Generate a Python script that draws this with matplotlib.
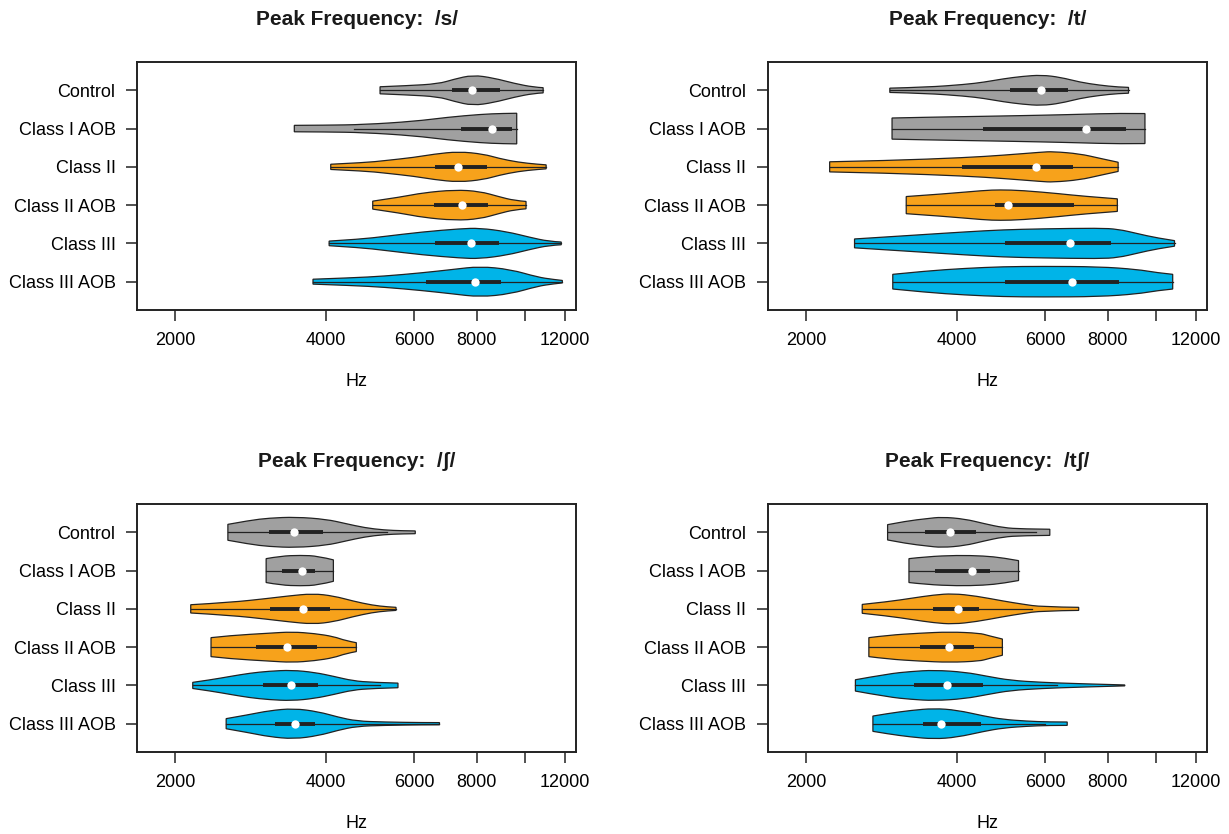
import matplotlib
matplotlib.use("Agg")
import matplotlib.pyplot as plt
from matplotlib.path import Path
from matplotlib.patches import PathPatch

plt.rcParams['font.family'] = ['Liberation Sans', 'DejaVu Sans']

groups = ['Control', 'Class I AOB', 'Class II', 'Class II AOB', 'Class III', 'Class III AOB']
fills = ['#a0a0a0', '#a0a0a0', '#f7a21b', '#f7a21b', '#00b4e8', '#00b4e8']

# /s/  -- whisker ends, quartiles, medians, and violin outline (Hz, relative half width)
s_wlo = [5130, 4560, 4090, 4960, 4060, 3770]
s_whi = [10850, 9610, 11000, 10030, 11790, 11850]
s_q1 = [7150, 7450, 6600, 6570, 6600, 6340]
s_med = [7830, 8560, 7350, 7490, 7790, 7940]
s_q3 = [8900, 9400, 8380, 8430, 8860, 8940]
s_shape = [
    [(5130, .23), (5800, .30), (6700, .42), (7200, .72), (7850, 1.0), (8650, .80), (9500, .45), (10400, .20), (10850, .17)],
    [(3460, .21), (4000, .22), (4760, .26), (6000, .47), (7000, .74), (8150, .93), (9000, .99), (9610, 1.0)],
    [(4090, .17), (4800, .28), (5220, .40), (6010, .62), (6570, .83), (7360, 1.0), (8260, .83), (8860, .55), (9680, .30), (10570, .17), (11000, .13)],
    [(4960, .26), (5700, .55), (6230, .80), (7230, 1.0), (8110, .90), (8860, .55), (9510, .30), (10030, .24)],
    [(4060, .15), (4700, .28), (5220, .45), (6230, .75), (7430, .96), (8110, 1.0), (9180, .77), (10200, .40), (11140, .13), (11790, .09)],
    [(3770, .16), (4500, .25), (5220, .36), (6230, .58), (7170, .80), (8110, 1.0), (9340, .80), (10570, .30), (11340, .15), (11850, .08)],
]

# /t/
t_wlo = [2940, 2970, 2230, 3170, 2500, 2980]
t_whi = [8800, 9490, 8390, 8360, 10870, 10780]
t_q1 = [5110, 4510, 4100, 4760, 4990, 4990]
t_med = [5900, 7230, 5750, 5050, 6730, 6790]
t_q3 = [6670, 8690, 6830, 6850, 8130, 8440]
t_shape = [
    [(2940, .14), (3480, .20), (4150, .38), (4530, .53), (4950, .75), (5400, .91), (5900, 1.0), (6440, .85), (7040, .53), (7680, .34), (8390, .21), (8800, .19)],
    [(2970, .69), (3480, .74), (4530, .80), (5900, .87), (7040, .93), (8390, 1.0), (9490, .98)],
    [(2230, .33), (2920, .41), (4150, .60), (4950, .76), (5900, .96), (6220, 1.0), (7040, .85), (7680, .57), (8390, .30)],
    [(3170, .56), (3800, .74), (4530, .96), (4870, 1.0), (5400, .96), (6440, .74), (7040, .60), (8360, .41)],
    [(2500, .29), (2920, .43), (3480, .59), (4150, .75), (4950, .89), (5900, .95), (7680, 1.0), (8390, .93), (9170, .64), (10010, .36), (10870, .18)],
    [(2980, .48), (3480, .70), (4150, .87), (4950, .98), (5900, 1.0), (7680, .98), (9170, .80), (10010, .59), (10780, .48)],
]

# /ʃ/
sh_wlo = [2550, 3040, 2150, 2360, 2170, 2530]
sh_whi = [5300, 4140, 5520, 4600, 5130, 6740]
sh_q1 = [3080, 3270, 3090, 2900, 2990, 3170]
sh_med = [3460, 3580, 3600, 3350, 3410, 3470]
sh_q3 = [3940, 3810, 4080, 3840, 3850, 3810]
sh_shape = [
    [(2550, .52), (2820, .78), (3080, .93), (3480, 1.0), (4010, .85), (4380, .57), (4780, .30), (5220, .15), (5700, .10), (6030, .09)],
    [(3040, .78), (3250, .95), (3560, 1.0), (3860, .95), (4140, .70)],
    [(2150, .27), (2580, .42), (3080, .69), (3360, .84), (3770, 1.0), (4150, .84), (4530, .51), (4950, .24), (5310, .13), (5520, .10)],
    [(2360, .62), (2580, .76), (3080, .91), (3420, 1.0), (3800, .89), (4150, .69), (4380, .42), (4600, .29)],
    [(2170, .20), (2360, .37), (2580, .59), (2820, .80), (3080, .93), (3420, 1.0), (3800, .85), (4150, .59), (4530, .30), (4950, .20), (5570, .15)],
    [(2530, .33), (2820, .60), (3080, .85), (3450, 1.0), (3870, .78), (4230, .43), (4610, .17), (5220, .11), (6230, .07), (6740, .07)],
]

# /tʃ/
tsh_wlo = [2910, 3210, 2590, 2670, 2510, 2720]
tsh_whi = [5750, 5310, 5650, 4930, 6330, 6000]
tsh_q1 = [3450, 3620, 3590, 3380, 3290, 3420]
tsh_med = [3880, 4280, 4030, 3850, 3820, 3720]
tsh_q3 = [4360, 4650, 4420, 4330, 4510, 4470]
tsh_shape = [
    [(2910, .50), (3180, .74), (3480, .89), (3730, 1.0), (4150, .87), (4530, .57), (4950, .30), (5400, .22), (6130, .20)],
    [(3210, .78), (3480, .91), (4000, 1.0), (4530, .96), (4950, .83), (5310, .65)],
    [(2590, .29), (2920, .47), (3240, .69), (3600, .91), (3930, 1.0), (4370, .84), (4950, .51), (5400, .31), (5900, .13), (7000, .10)],
    [(2670, .62), (2920, .78), (3360, .91), (3870, 1.0), (4450, .91), (4610, .76), (4930, .53)],
    [(2510, .37), (2920, .76), (3240, .91), (3600, 1.0), (4150, .87), (4610, .59), (5120, .33), (5900, .20), (7040, .11), (8650, .03)],
    [(2720, .50), (2920, .67), (3240, .87), (3600, 1.0), (4000, .89), (4530, .50), (4950, .28), (5500, .17), (6110, .11), (6640, .11)],
]

panels = [
    ('Peak Frequency:  /s/', s_shape, s_wlo, s_whi, s_q1, s_med, s_q3),
    ('Peak Frequency:  /t/', t_shape, t_wlo, t_whi, t_q1, t_med, t_q3),
    ('Peak Frequency:  /ʃ/', sh_shape, sh_wlo, sh_whi, sh_q1, sh_med, sh_q3),
    ('Peak Frequency:  /tʃ/', tsh_shape, tsh_wlo, tsh_whi, tsh_q1, tsh_med, tsh_q3),
]

xticks = [2000, 4000, 6000, 8000, 10000, 12000]
xticklabels = ['2000', '4000', '6000', '8000', '', '12000']


def curve(pts):
    # quadratic bezier through the midpoints, read points used as control points
    verts, codes = [], []
    for k in range(1, len(pts) - 1):
        verts.append(pts[k])
        codes.append(Path.CURVE3)
        if k < len(pts) - 2:
            verts.append(((pts[k][0] * pts[k + 1][0]) ** 0.5, (pts[k][1] + pts[k + 1][1]) / 2))
        else:
            verts.append(pts[-1])
        codes.append(Path.CURVE3)
    if len(pts) == 2:
        verts.append(pts[1])
        codes.append(Path.LINETO)
    return verts, codes


def violin_path(shape, pos):
    top = [(hz, pos + 0.4 * w) for hz, w in shape]
    bot = [(hz, pos - 0.4 * w) for hz, w in shape][::-1]
    verts, codes = [top[0]], [Path.MOVETO]
    v, c = curve(top)
    verts += v
    codes += c
    verts.append(bot[0])
    codes.append(Path.LINETO)
    v, c = curve(bot)
    verts += v
    codes += c
    verts.append(top[0])
    codes.append(Path.CLOSEPOLY)
    return Path(verts, codes)


fig = plt.figure(figsize=(12.29, 8.34), dpi=100)
boxes = [[0.1115, 0.6283, 0.3572, 0.2974], [0.6249, 0.6283, 0.3572, 0.2974],
         [0.1115, 0.0983, 0.3572, 0.2974], [0.6249, 0.0983, 0.3572, 0.2974]]
edge = '#222222'

for box, (title, shapes, wlo, whi, q1, med, q3) in zip(boxes, panels):
    ax = fig.add_axes(box)
    n = len(groups)
    ax.set_xscale('log')
    ax.set_xlim(1680, 12620)
    ax.set_ylim(0.26, 6.74)
    for i in range(n):
        pos = n - i
        patch = PathPatch(violin_path(shapes[i], pos), facecolor=fills[i], edgecolor=edge,
                          linewidth=0.9, zorder=2)
        ax.add_patch(patch)
        ax.plot([wlo[i], whi[i]], [pos, pos], color=edge, lw=0.9, zorder=3)
        ax.plot([q1[i], q3[i]], [pos, pos], color=edge, lw=2.8, solid_capstyle='butt', zorder=4)
        ax.plot([med[i]], [pos], 'o', color='white', ms=6, mec='none', zorder=5)
    ax.set_xticks(xticks)
    ax.set_xticklabels(xticklabels)
    ax.minorticks_off()
    ax.set_yticks(range(n, 0, -1))
    ax.set_yticklabels(groups)
    ax.tick_params(axis='both', direction='out', length=8, width=1.1, color=edge, labelsize=13)
    ax.tick_params(axis='x', pad=8)
    ax.tick_params(axis='y', pad=7.5)
    for sp in ax.spines.values():
        sp.set_linewidth(1.4)
        sp.set_color(edge)
    ax.text(0.5, 1.172, title, transform=ax.transAxes, ha='center', va='center',
            fontsize=15, fontweight='bold', color='#1a1a1a')
    ax.text(0.5, -0.29, 'Hz', transform=ax.transAxes, ha='center', va='center', fontsize=13)

fig.savefig('out.png', dpi=100)
